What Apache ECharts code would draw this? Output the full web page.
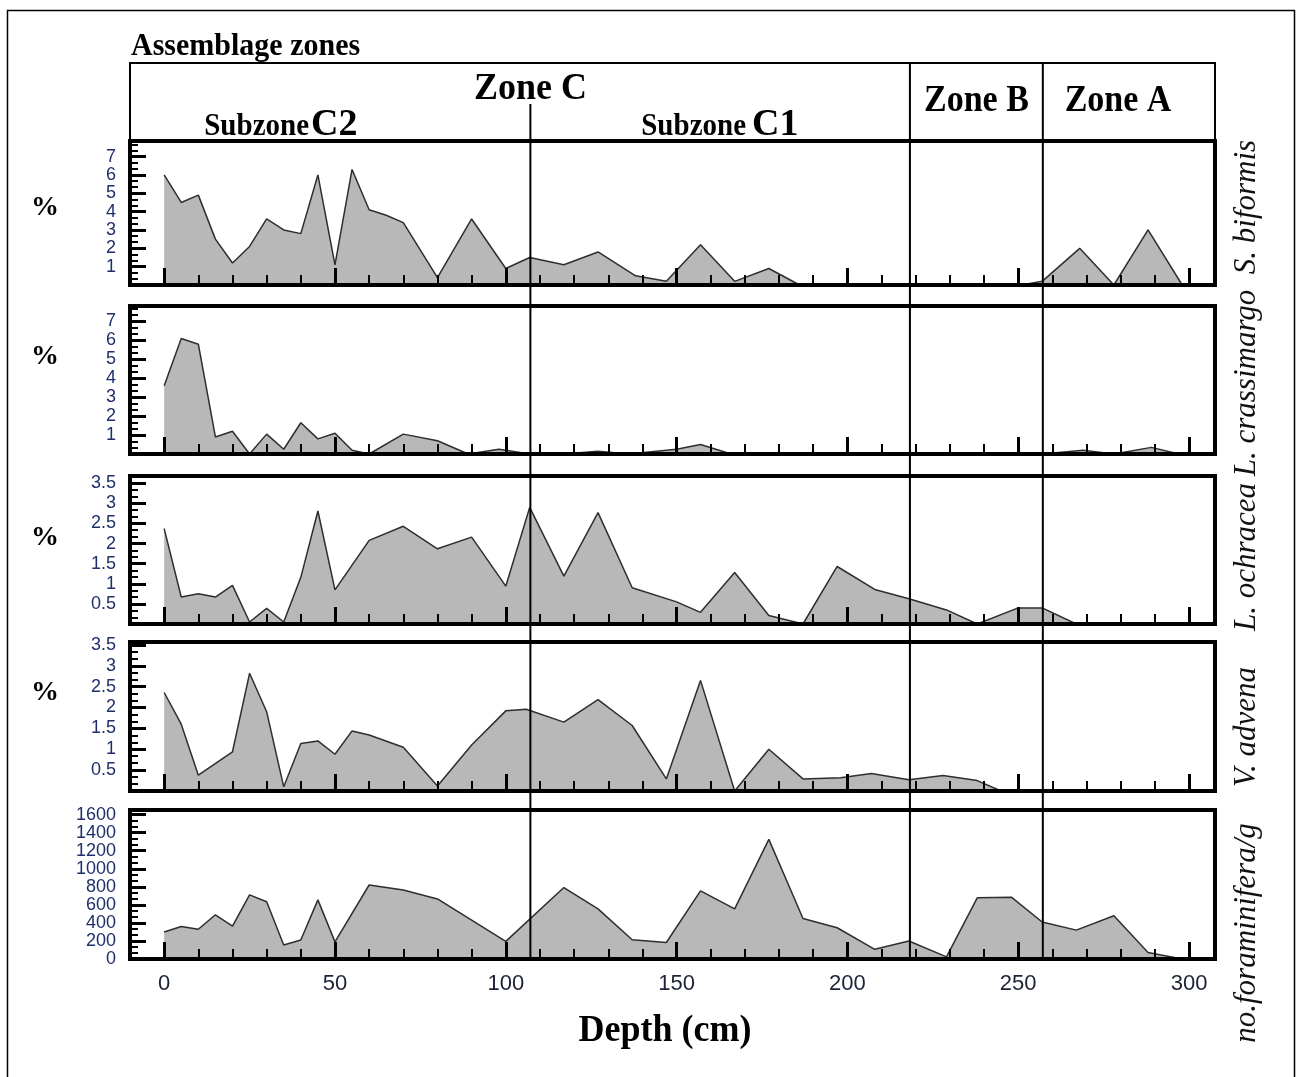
<!DOCTYPE html>
<html>
<head>
<meta charset="utf-8">
<script src="https://cdn.jsdelivr.net/npm/echarts@6/dist/echarts.min.js"></script>
<style>
  html, body { margin: 0; padding: 0; background: #fff; }
  #chart { width: 1297px; height: 1077px; }
</style>
</head>
<body>
<div id="chart"></div>
<script>
// ---- Core data: depth (cm) of each sample and the measured value ----
const biformisDepth = [0, 5, 10, 15, 20, 25, 30, 35, 40, 45, 50, 55, 60, 65, 70, 80, 90, 100, 107, 117, 127, 138, 147, 157, 167, 177, 186, 251, 257, 268, 278, 288, 298];
const biformisPct   = [6.0, 4.5, 4.9, 2.5, 1.2, 2.1, 3.6, 3.0, 2.8, 6.0, 1.1, 6.3, 4.1, 3.8, 3.4, 0.4, 3.6, 0.9, 1.5, 1.1, 1.8, 0.5, 0.2, 2.2, 0.2, 0.9, 0, 0, 0.2, 2.0, 0, 3.0, 0];

const crassimargoDepth = [0, 5, 10, 15, 20, 25, 30, 35, 40, 45, 50, 55, 60, 70, 80, 89, 98, 107, 117, 127, 136, 150, 157, 166, 257, 269, 278, 289, 297];
const crassimargoPct   = [3.6, 6.1, 5.8, 0.9, 1.2, 0, 1.05, 0.25, 1.65, 0.8, 1.1, 0.2, 0, 1.05, 0.7, 0, 0.25, 0, 0, 0.15, 0, 0.25, 0.5, 0, 0, 0.2, 0, 0.35, 0];

const ochraceaDepth = [0, 5, 10, 15, 20, 25, 30, 35, 40, 45, 50, 60, 70, 80, 90, 100, 107, 117, 127, 137, 150, 157, 167, 177, 187, 197, 208, 218, 229, 238, 250, 257, 267];
const ochraceaPct   = [2.37, 0.67, 0.75, 0.67, 0.96, 0.05, 0.39, 0.05, 1.16, 2.81, 0.85, 2.08, 2.43, 1.87, 2.16, 0.94, 2.9, 1.19, 2.77, 0.9, 0.55, 0.29, 1.28, 0.21, 0, 1.43, 0.86, 0.63, 0.35, 0, 0.4, 0.4, 0];

const advenaDepth = [0, 5, 10, 20, 25, 30, 35, 40, 45, 50, 55, 60, 70, 80, 90, 100, 106, 117, 127, 137, 147, 157, 167, 177, 187, 198, 207, 218, 228, 238, 245];
const advenaPct   = [2.36, 1.6, 0.38, 0.94, 2.82, 1.9, 0.1, 1.14, 1.2, 0.88, 1.44, 1.34, 1.05, 0.12, 1.1, 1.92, 1.96, 1.65, 2.19, 1.57, 0.29, 2.65, 0, 1.0, 0.29, 0.32, 0.42, 0.27, 0.37, 0.25, 0];

const foramDepth = [0, 5, 10, 15, 20, 25, 30, 35, 40, 45, 50, 60, 70, 80, 100, 117, 127, 137, 147, 157, 167, 177, 187, 197, 208, 218, 229, 238, 248, 257, 267, 278, 288, 298];
const foramPerGram = [300, 360, 330, 490, 365, 710, 635, 155, 210, 655, 190, 820, 765, 665, 195, 792, 556, 213, 183, 754, 556, 1325, 449, 346, 107, 200, 23, 678, 685, 410, 320, 480, 72, 0];

// Panel names (right side) and value-axis settings
const panelNames = ['S. biformis', 'L. crassimargo', 'L. ochracea', 'V. advena', 'no.foraminifera/g'];
const panelUnits = ['%', '%', '%', '%', ''];
const yMax  = [7.85, 7.82, 3.68, 3.57, 1651];
const yStep = [1, 1, 0.5, 0.5, 200];
const yTickLabels = [
  [1, 2, 3, 4, 5, 6, 7],
  [1, 2, 3, 4, 5, 6, 7],
  [0.5, 1, 1.5, 2, 2.5, 3, 3.5],
  [0.5, 1, 1.5, 2, 2.5, 3, 3.5],
  [0, 200, 400, 600, 800, 1000, 1200, 1400, 1600]
];

// Depth axis
const depthMin = -10, depthMax = 307.6;
const depthLabels = [0, 50, 100, 150, 200, 250, 300];

// Assemblage zone boundaries (cm): C2 | C1 split, then Zone C | Zone B | Zone A
const subzoneBoundary = 107.2;
const zoneBoundaries = [218.3, 257.2];

const seriesData = [
  [biformisDepth, biformisPct],
  [crassimargoDepth, crassimargoPct],
  [ochraceaDepth, ochraceaPct],
  [advenaDepth, advenaPct],
  [foramDepth, foramPerGram]
];

// ---- Layout ----
const plotLeft = 130, plotWidth = 1085;
const panelTop = [141, 306, 476, 642, 810];
const panelHeight = [144, 148, 148, 149, 149];
const headerTop = 63;

const serif = "'Liberation Serif', 'Times New Roman', serif";
const narrow = "'Liberation Sans Narrow', 'Liberation Sans', Arial, sans-serif";

const chart = echarts.init(document.getElementById('chart'), null, { renderer: 'canvas' });

const grids = [], xAxes = [], yAxes = [], series = [];
for (let i = 0; i < 5; i++) {
  grids.push({
    left: plotLeft, top: panelTop[i], width: plotWidth, height: panelHeight[i],
    show: true, borderColor: '#000', borderWidth: 4, backgroundColor: 'transparent', z: 6
  });
  // fine ticks every 10 cm
  xAxes.push({
    gridIndex: i, type: 'value', min: depthMin, max: depthMax, interval: 10, position: 'bottom',
    axisLine: { show: false, onZero: false },
    axisTick: { show: true, inside: true, length: 10, lineStyle: { color: '#000', width: 2 } },
    axisLabel: { show: false }, splitLine: { show: false }, z: 5
  });
  // major ticks every 50 cm, labelled on the lowest panel
  xAxes.push({
    gridIndex: i, type: 'value', min: depthMin, max: depthMax, position: 'bottom',
    axisLine: { show: false, onZero: false },
    axisTick: { show: true, inside: true, length: 17, customValues: depthLabels, lineStyle: { color: '#000', width: 3 } },
    axisLabel: {
      show: i === 4, customValues: depthLabels, margin: 14,
      fontFamily: narrow, fontSize: 22, color: '#1d2238'
    },
    splitLine: { show: false }, z: 5
  });
  yAxes.push({
    gridIndex: i, type: 'value', min: 0, max: yMax[i], interval: yStep[i], position: 'left',
    axisLine: { show: false, onZero: false },
    axisTick: { show: true, inside: true, length: 16, lineStyle: { color: '#000', width: 3 } },
    minorTick: { show: true, splitNumber: 3, length: 8, lineStyle: { color: '#000', width: 2 } },
    axisLabel: {
      customValues: yTickLabels[i], margin: 14, hideOverlap: false,
      fontFamily: narrow, fontSize: 18, lineHeight: 12, color: '#1f2f6a',
      formatter: v => String(v)
    },
    splitLine: { show: false }, z: 5
  });
  const [d, v] = seriesData[i];
  series.push({
    name: panelNames[i], type: 'line', xAxisIndex: i * 2, yAxisIndex: i,
    data: d.map((x, k) => [x, v[k]]),
    symbol: 'none', silent: true, z: 2,
    lineStyle: { color: '#2e2e2e', width: 1.5 },
    areaStyle: { color: '#b8b8b8', opacity: 1, origin: 'start' }
  });
}

chart.setOption({
  animation: false,
  backgroundColor: '#fff',
  grid: grids, xAxis: xAxes, yAxis: yAxes, series: series
});

// ---- Annotations: header box, zone lines, titles ----
function txt(str, x, baseline, size, o) {
  o = o || {};
  return {
    type: 'text', x: x, y: baseline, z: 20,
    scaleY: o.scaleY || 1, rotation: o.rotation || 0,
    style: {
      text: str, x: 0, y: -0.32 * size,
      fontFamily: serif, fontWeight: o.weight || 'bold', fontStyle: o.style || 'normal',
      fontSize: size, fill: o.color || '#000',
      align: o.align || 'center', verticalAlign: 'middle'
    }
  };
}

const px = v => chart.convertToPixel({ xAxisIndex: 0 }, v);
const bottomY = panelTop[4] + panelHeight[4];
const graphics = [];

// page frame
graphics.push({ type: 'rect', z: 1, shape: { x: 7.5, y: 10.5, width: 1287, height: 1090 },
  style: { fill: null, stroke: '#000', lineWidth: 1.5 } });
// header box
graphics.push({ type: 'rect', z: 10, shape: { x: plotLeft, y: headerTop, width: plotWidth, height: panelTop[0] - headerTop },
  style: { fill: null, stroke: '#000', lineWidth: 2 } });
// zone boundary lines
graphics.push({ type: 'line', z: 10, shape: { x1: px(subzoneBoundary), y1: 104, x2: px(subzoneBoundary), y2: bottomY },
  style: { stroke: '#000', lineWidth: 2 } });
zoneBoundaries.forEach(b => graphics.push({ type: 'line', z: 10,
  shape: { x1: px(b), y1: headerTop, x2: px(b), y2: bottomY }, style: { stroke: '#000', lineWidth: 2 } }));

// header texts
graphics.push(txt('Assemblage zones', 131, 57, 30, { align: 'left', scaleY: 1.05 }));
graphics.push(txt('Zone C', px(subzoneBoundary), 101, 36, { scaleY: 1.08 }));
graphics.push(txt('Subzone', 309, 137, 29, { align: 'right', scaleY: 1.12 }));
graphics.push(txt('C2', 311, 137, 38, { align: 'left', scaleY: 1.02 }));
graphics.push(txt('Subzone', 746, 137, 29, { align: 'right', scaleY: 1.12 }));
graphics.push(txt('C1', 752, 137, 38, { align: 'left', scaleY: 1.02 }));
graphics.push(txt('Zone B', (px(zoneBoundaries[0]) + px(zoneBoundaries[1])) / 2, 113, 34, { scaleY: 1.1 }));
graphics.push(txt('Zone A', 1118, 113, 34, { scaleY: 1.1 }));

// unit labels on the left
const unitCentres = [208, 357, 538, 693];
unitCentres.forEach((c, i) => graphics.push(txt(panelUnits[i], 45, c + 9, 28, {})));

// species names on the right, reading upward
const nameCentres = [207, 383, 557, 727, 933];
nameCentres.forEach((c, i) => graphics.push({
  type: 'text', x: 1247, y: c, rotation: Math.PI / 2, z: 20,
  style: {
    text: panelNames[i], x: 0, y: 0, fontFamily: serif, fontStyle: 'italic',
    fontSize: 31, fill: '#111', align: 'center', verticalAlign: 'middle'
  }
}));

// depth axis title
graphics.push(txt('Depth (cm)', 665, 1043, 36, { scaleY: 1.08 }));

chart.setOption({ graphic: graphics });
</script>
</body>
</html>
